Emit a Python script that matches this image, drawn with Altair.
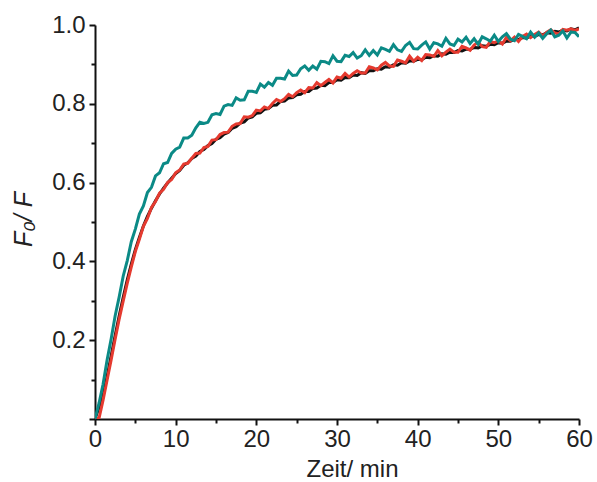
import altair as alt
import pandas as pd

# sample times (min), every 0.5 min
TIME = [i * 0.5 for i in range(121)]

BLACK = [0.000, 0.030, 0.058, 0.108, 0.160, 0.212, 0.262, 0.309, 0.353, 0.393,
         0.430, 0.461, 0.490, 0.514, 0.535, 0.554, 0.571, 0.586, 0.599, 0.611,
         0.623, 0.631, 0.644, 0.650, 0.661, 0.667, 0.679, 0.684, 0.694, 0.699,
         0.710, 0.714, 0.723, 0.727, 0.738, 0.742, 0.751, 0.754, 0.764, 0.767,
         0.776, 0.777, 0.786, 0.788, 0.796, 0.797, 0.806, 0.807, 0.815, 0.816,
         0.823, 0.824, 0.831, 0.831, 0.839, 0.840, 0.847, 0.846, 0.854, 0.854,
         0.861, 0.860, 0.867, 0.866, 0.873, 0.872, 0.879, 0.877, 0.884, 0.884,
         0.889, 0.888, 0.894, 0.893, 0.899, 0.898, 0.904, 0.903, 0.909, 0.908,
         0.913, 0.912, 0.918, 0.917, 0.922, 0.921, 0.927, 0.926, 0.931, 0.930,
         0.935, 0.934, 0.939, 0.938, 0.943, 0.942, 0.947, 0.946, 0.951, 0.950,
         0.955, 0.954, 0.959, 0.959, 0.964, 0.963, 0.968, 0.967, 0.972, 0.971,
         0.976, 0.975, 0.980, 0.979, 0.984, 0.982, 0.987, 0.985, 0.990, 0.988,
         0.993]

RED = [0.000, 0.002, 0.048, 0.099, 0.150, 0.203, 0.254, 0.300, 0.345, 0.386,
       0.425, 0.456, 0.489, 0.509, 0.537, 0.552, 0.573, 0.583, 0.600, 0.608,
       0.625, 0.632, 0.647, 0.649, 0.662, 0.674, 0.675, 0.689, 0.692, 0.708,
       0.709, 0.722, 0.727, 0.728, 0.743, 0.749, 0.750, 0.767, 0.766, 0.770,
       0.784, 0.782, 0.792, 0.788, 0.801, 0.811, 0.806, 0.813, 0.824, 0.818,
       0.828, 0.835, 0.828, 0.841, 0.840, 0.854, 0.846, 0.854, 0.862, 0.853,
       0.868, 0.865, 0.877, 0.868, 0.877, 0.884, 0.878, 0.878, 0.894, 0.891,
       0.886, 0.898, 0.905, 0.896, 0.895, 0.911, 0.908, 0.904, 0.921, 0.908,
       0.918, 0.910, 0.925, 0.924, 0.920, 0.935, 0.922, 0.931, 0.939, 0.931,
       0.931, 0.946, 0.942, 0.936, 0.949, 0.956, 0.945, 0.943, 0.958, 0.955,
       0.960, 0.952, 0.969, 0.960, 0.969, 0.958, 0.971, 0.977, 0.968, 0.976,
       0.982, 0.972, 0.982, 0.988, 0.980, 0.977, 0.989, 0.987, 0.990, 0.986,
       0.990]

TEAL = [0.000, 0.040, 0.088, 0.150, 0.203, 0.262, 0.310, 0.363, 0.402, 0.450,
        0.482, 0.520, 0.541, 0.575, 0.588, 0.617, 0.625, 0.648, 0.651, 0.674,
        0.685, 0.690, 0.713, 0.713, 0.720, 0.739, 0.753, 0.750, 0.753, 0.772,
        0.775, 0.773, 0.794, 0.798, 0.796, 0.815, 0.809, 0.810, 0.832, 0.832,
        0.829, 0.850, 0.842, 0.854, 0.847, 0.865, 0.865, 0.863, 0.883, 0.872,
        0.873, 0.889, 0.896, 0.885, 0.896, 0.888, 0.908, 0.907, 0.902, 0.922,
        0.908, 0.907, 0.923, 0.920, 0.930, 0.916, 0.922, 0.937, 0.923, 0.935,
        0.924, 0.942, 0.938, 0.933, 0.950, 0.937, 0.933, 0.948, 0.956, 0.940,
        0.939, 0.949, 0.957, 0.939, 0.955, 0.952, 0.946, 0.966, 0.952, 0.948,
        0.964, 0.957, 0.969, 0.953, 0.965, 0.951, 0.970, 0.965, 0.959, 0.974,
        0.958, 0.970, 0.978, 0.964, 0.960, 0.976, 0.971, 0.965, 0.982, 0.969,
        0.980, 0.966, 0.978, 0.987, 0.970, 0.974, 0.985, 0.967, 0.982, 0.981,
        0.970]

SERIES = ["Probe 1", "Probe 2", "Probe 3"]
COLORS = ["#111111", "#e53a2f", "#0b8a86"]
X_TICKS = [0, 5, 10, 15, 20, 25, 30, 35, 40, 45, 50, 55, 60]
Y_TICKS = [0.0, 0.1, 0.2, 0.3, 0.4, 0.5, 0.6, 0.7, 0.8, 0.9, 1.0]

rows = []
for name, vals in zip(SERIES, [BLACK, RED, TEAL]):
    for t, v in zip(TIME, vals):
        rows.append({"t": t, "v": v, "s": name})
df = pd.DataFrame(rows)

FONT = "Liberation Sans"

x_axis = alt.Axis(
    values=X_TICKS,
    title="Zeit/ min",
    labelExpr="datum.value % 10 == 0 ? datum.label : ''",
    tickSize={"condition": {"test": "datum.value % 10 == 0", "value": 6}, "value": 4},
    grid=False,
    domainColor="#111111", domainWidth=2,
    tickColor="#111111", tickWidth=2,
    labelFont=FONT, labelFontSize=24, labelColor="#222222",
    labelPadding=2, labelFlush=False, labelOverlap=False,
    titleFont=FONT, titleFontSize=24, titleFontWeight="normal", titleColor="#222222",
    titleX=257, titleY=57, titleBaseline="alphabetic", titleAlign="center",
)

y_axis = alt.Axis(
    values=Y_TICKS,
    title="F₀/ F",
    labelExpr="(round(datum.value*10) % 2 == 0 && datum.value > 0.05) ? format(datum.value, '.1f') : ''",
    tickSize={"condition": {"test": "round(datum.value*10) % 2 == 0", "value": 6}, "value": 4},
    grid=False,
    domainColor="#111111", domainWidth=2,
    tickColor="#111111", tickWidth=2,
    labelFont=FONT, labelFontSize=24, labelColor="#222222",
    labelPadding=4, labelFlush=False, labelOverlap=False,
    titleFont=FONT, titleFontSize=25, titleFontWeight="normal", titleFontStyle="italic",
    titleColor="#222222",
    titleX=-64, titleY=194, titleBaseline="alphabetic", titleAlign="center",
)

chart = alt.Chart(df).mark_line(strokeWidth=3, clip=True).encode(
    x=alt.X("t:Q", scale=alt.Scale(domain=[0, 60], nice=False, zero=False), axis=x_axis),
    y=alt.Y("v:Q", scale=alt.Scale(domain=[0, 1.0], nice=False), axis=y_axis),
    color=alt.Color("s:N", scale=alt.Scale(domain=SERIES, range=COLORS), legend=None),
).properties(
    width=484,
    height=394,
    autosize=alt.AutoSizeParams(type="none"),
    padding={"left": 95, "top": 25, "right": 18, "bottom": 63},
).configure_view(stroke=None)

chart.save("out.html", embed_options={"renderer": "svg", "actions": False})
